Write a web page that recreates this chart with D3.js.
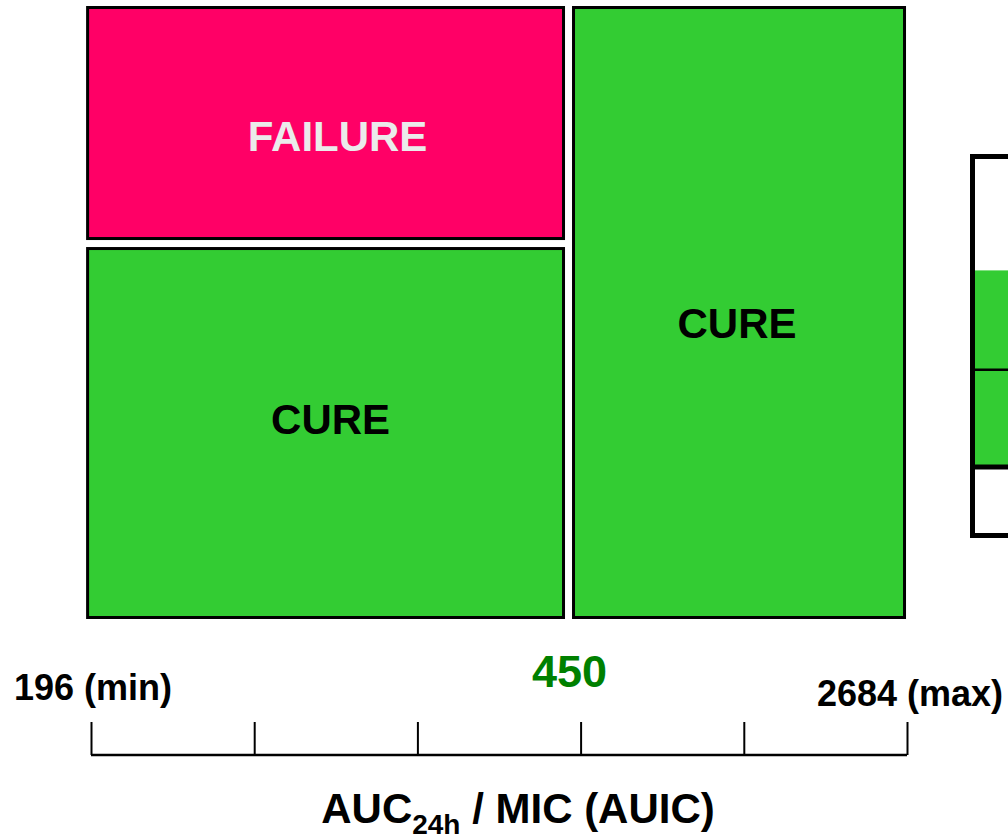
<!DOCTYPE html>
<html>
<head>
<meta charset="utf-8">
<script src="https://cdn.jsdelivr.net/npm/d3@7"></script>
<style>
  html, body { margin: 0; padding: 0; background: #fff; }
  svg { display: block; font-family: "Liberation Sans", Arial, Helvetica, sans-serif; font-weight: bold; }
</style>
</head>
<body>
<svg id="chart" width="1008" height="836"></svg>
<script>
// ---- data ----
// axis is drawn as 5 equal intervals between min and max
const axisTicks = [0, 1, 2, 3, 4, 5];
const axisMinLabel = "196 (min)";
const axisMaxLabel = "2684 (max)";
const breakpointLabel = "450";
// column extents along the axis (in interval units)
const columnNames = ["AUIC < 450", "AUIC ≥ 450"];
const columnStart = [-0.03, 2.926];
const columnEnd = [2.926, 4.994];
// outcome shares per column (%)
const cureShare = [61.25, 100];
const failureShare = [38.75, 0];
const outcomeLabels = ["CURE", "FAILURE"];
// partly visible stacked bar at the right edge (% of its height, top to bottom)
const sideSegments = [30, 26.3, 25.7, 18];
const sideFilled = [false, true, true, false];

// ---- layout ----
const svg = d3.select("#chart");
const colors = { cure: "#33CC33", failure: "#FF0066", breakpoint: "#008000" };
const gap = 7;

const x = d3.scaleLinear().domain([0, 5]).range([91, 907]);
const y = d3.scaleLinear().domain([0, 100]).range([619, 6]);

const rects = [];
columnNames.forEach((name, i) => {
  const x0 = x(columnStart[i]) + (i > 0 ? gap / 2 : 0);
  const x1 = x(columnEnd[i]) - (i < columnNames.length - 1 ? gap / 2 : 0);
  const hasFail = failureShare[i] > 0;
  rects.push({ kind: "cure", col: i, x0, x1,
    y0: y(0), y1: y(cureShare[i]) + (hasFail ? gap / 2 : 0) });
  if (hasFail) {
    rects.push({ kind: "failure", col: i, x0, x1,
      y0: y(cureShare[i]) - gap / 2, y1: y(cureShare[i] + failureShare[i]) });
  }
});

const sw = 3;
svg.append("g").selectAll("rect").data(rects).join("rect")
  .attr("x", d => d.x0 + sw / 2)
  .attr("y", d => d.y1 + sw / 2)
  .attr("width", d => d.x1 - d.x0 - sw)
  .attr("height", d => d.y0 - d.y1 - sw)
  .attr("fill", d => colors[d.kind])
  .attr("stroke", "#000")
  .attr("stroke-width", sw);

// label offsets (baseline) relative to rect centre
const labelOffset = {
  "cure-0": [5, 1],
  "failure-0": [12, 28],
  "cure-1": [-2, 25]
};
svg.append("g").selectAll("text").data(rects).join("text")
  .attr("x", d => (d.x0 + d.x1) / 2 + labelOffset[d.kind + "-" + d.col][0])
  .attr("y", d => (d.y0 + d.y1) / 2 + labelOffset[d.kind + "-" + d.col][1])
  .attr("text-anchor", "middle")
  .attr("font-size", 42)
  .attr("fill", d => d.kind === "failure" ? "#EBEBEB" : "#000")
  .text(d => d.kind === "failure" ? outcomeLabels[1] : outcomeLabels[0]);

// ---- axis ----
const axisY = 755;
const axis = d3.axisTop(x).tickValues(axisTicks).tickSize(33).tickSizeOuter(0).tickFormat("");
const gAxis = svg.append("g").attr("transform", `translate(0,${axisY})`).call(axis);
gAxis.select(".domain").attr("stroke", "#000").attr("stroke-width", 2.5)
  .attr("d", `M${x(0)},0H${x(5)}`);
gAxis.selectAll(".tick line").attr("stroke", "#000").attr("stroke-width", 2);

svg.append("text").attr("x", x(0) + 2).attr("y", 700).attr("text-anchor", "middle")
  .attr("font-size", 36).attr("fill", "#000").text(axisMinLabel);
svg.append("text").attr("x", x(5) + 3).attr("y", 706).attr("text-anchor", "middle")
  .attr("font-size", 36).attr("fill", "#000").text(axisMaxLabel);
svg.append("text").attr("x", x(columnEnd[0]) + 1).attr("y", 687).attr("text-anchor", "middle")
  .attr("font-size", 45).attr("fill", colors.breakpoint).text(breakpointLabel);

// axis title with subscript
const title = svg.append("text").attr("x", 518).attr("y", 823).attr("text-anchor", "middle")
  .attr("font-size", 42).attr("fill", "#000");
title.append("tspan").text("AUC");
title.append("tspan").attr("font-size", 28).attr("dy", 11).text("24h");
title.append("tspan").attr("dy", -11).text(" / MIC (AUIC)");

// ---- partly visible side bar ----
const ys = d3.scaleLinear().domain([0, d3.sum(sideSegments)]).range([157, 535]);
let acc = 0;
const side = sideSegments.map((v, i) => { const s = { a: acc, b: acc + v, filled: sideFilled[i] }; acc += v; return s; });
const sideX = 975;
svg.append("g").selectAll("rect").data(side).join("rect")
  .attr("x", sideX).attr("y", d => ys(d.a)).attr("width", 60)
  .attr("height", d => ys(d.b) - ys(d.a))
  .attr("fill", d => d.filled ? colors.cure : "#fff");
// dividers
svg.append("line").attr("x1", sideX).attr("x2", 1010)
  .attr("y1", ys(side[2].a)).attr("y2", ys(side[2].a)).attr("stroke", "#000").attr("stroke-width", 2.5);
svg.append("line").attr("x1", sideX).attr("x2", 1010)
  .attr("y1", ys(side[3].a)).attr("y2", ys(side[3].a)).attr("stroke", "#000").attr("stroke-width", 5);
// frame (left, top, bottom)
svg.append("path")
  .attr("d", `M1010,${ys(0) - 0.5}H${sideX - 2.5}V${ys(acc) + 0.5}H1010`)
  .attr("fill", "none").attr("stroke", "#000").attr("stroke-width", 5);
</script>
</body>
</html>
